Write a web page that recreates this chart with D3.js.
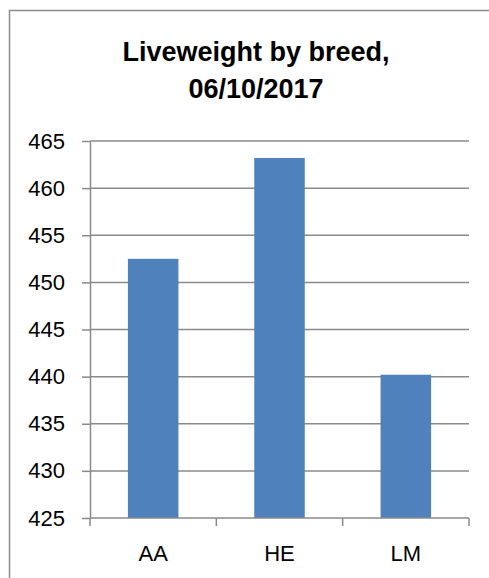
<!DOCTYPE html>
<html>
<head>
<meta charset="utf-8">
<script src="https://cdn.jsdelivr.net/npm/d3@7"></script>
<style>
  body { margin: 0; background: #fff; }
  text { font-family: "Liberation Sans", Arial, sans-serif; fill: #000; }
</style>
</head>
<body>
<div class="chart"></div>
<script>
var breeds = ['AA', 'HE', 'LM'];
var liveweight = [452.5, 463.2, 440.2];
var yTicks = [425, 430, 435, 440, 445, 450, 455, 460, 465];
var titleLines = ['Liveweight by breed,', '06/10/2017'];

(function () {
  var svg = d3.select('.chart').append('svg')
    .attr('width', 489)
    .attr('height', 578);
  var margin = {top: 141, right: 20, bottom: 60, left: 90};
  var width = +svg.attr('width') - margin.left - margin.right;
  var height = +svg.attr('height') - margin.top - margin.bottom;

  // frame (only top and left edges show)
  svg.append('path')
    .attr('d', 'M9.5,578V10.5H489')
    .attr('fill', 'none')
    .attr('stroke', '#8c8c8c')
    .attr('stroke-width', 1.5);

  // title
  svg.append('text')
    .attr('x', 256)
    .attr('y', 61)
    .attr('text-anchor', 'middle')
    .attr('font-size', '27px')
    .attr('font-weight', 'bold')
    .selectAll('tspan')
    .data(titleLines)
    .enter().append('tspan')
      .attr('x', 256)
      .attr('dy', function (d, i) { return i ? 37 : 0; })
      .text(function (d) { return d; });

  var g = svg.append('g').attr('transform', 'translate(' + margin.left + ',' + margin.top + ')');

  var x = d3.scaleBand()
    .domain(breeds)
    .range([0, width])
    .paddingInner(0.6)
    .paddingOuter(0.3);
  var y = d3.scaleLinear()
    .domain([425, 465])
    .range([height, 0]);

  // gridlines
  g.append('g')
      .attr('class', 'grid')
    .selectAll('line')
    .data(yTicks.slice(1))
    .enter().append('line')
      .attr('x1', 0)
      .attr('x2', width)
      .attr('y1', function (d) { return y(d); })
      .attr('y2', function (d) { return y(d); })
      .attr('stroke', '#8a8a8a')
      .attr('stroke-width', 1.5);

  // bars
  g.append('g')
    .selectAll('.bar')
    .data(breeds)
    .enter().append('rect')
      .attr('class', 'bar')
      .attr('x', function (d) { return x(d); })
      .attr('width', x.bandwidth())
      .attr('y', function (d, i) { return y(liveweight[i]); })
      .attr('height', function (d, i) { return height - y(liveweight[i]); })
      .attr('fill', '#4f81bd');

  // y axis
  var axisLeft = d3.axisLeft(y)
    .tickValues(yTicks)
    .tickSize(8)
    .tickPadding(17)
    .tickSizeOuter(0);
  var ya = g.append('g')
      .attr('class', 'axis axis--y')
      .call(axisLeft);
  ya.selectAll('text').attr('font-size', '22px').attr('font-family', '"Liberation Sans", Arial, sans-serif').attr('fill', '#000');

  // x axis: line, boundary ticks, labels
  var xa = g.append('g')
      .attr('class', 'axis axis--x')
      .attr('transform', 'translate(0,' + height + ')');
  var bounds = breeds.map(function (d) { return x(d) - x.step() * x.paddingInner() / 2; }).concat([width]);
  xa.selectAll('.tk')
    .data(bounds)
    .enter().append('line')
      .attr('class', 'tk')
      .attr('x1', function (d) { return d; })
      .attr('x2', function (d) { return d; })
      .attr('y1', 0)
      .attr('y2', 8);
  xa.append('line')
      .attr('x1', 0)
      .attr('x2', width)
      .attr('y1', 0)
      .attr('y2', 0);
  xa.selectAll('text')
    .data(breeds)
    .enter().append('text')
      .attr('x', function (d) { return x(d) + x.bandwidth() / 2; })
      .attr('y', 43)
      .attr('text-anchor', 'middle')
      .attr('font-size', '22px')
      .text(function (d) { return d; });

  svg.selectAll('.axis line, .axis path')
    .attr('stroke', '#8a8a8a')
    .attr('stroke-width', 1.5);
})();
</script>
</body>
</html>
